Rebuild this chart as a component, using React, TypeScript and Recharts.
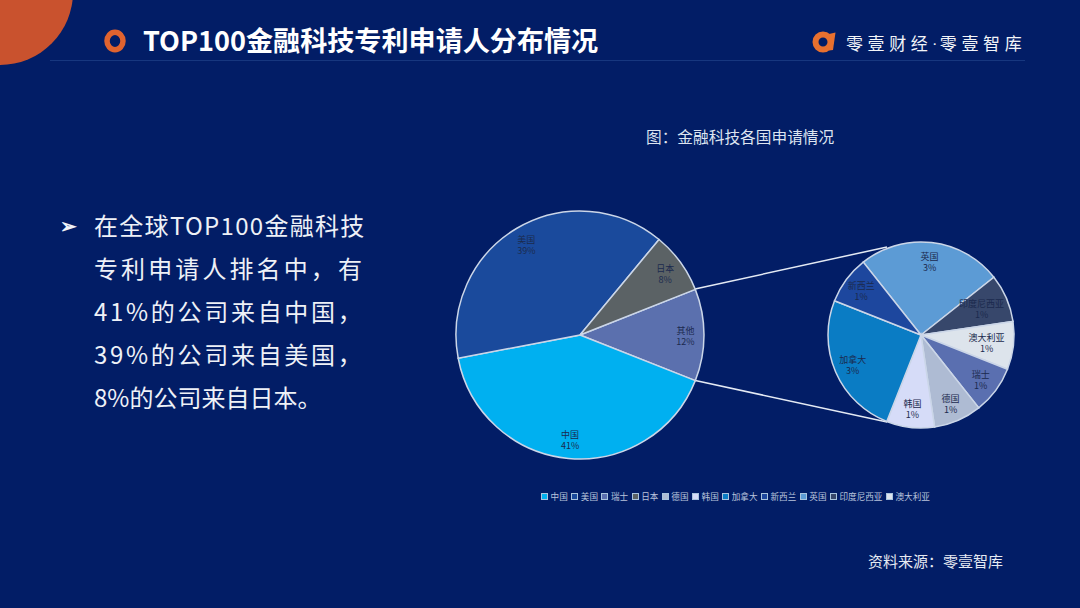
import { PieChart, Pie, Cell } from "recharts";

const mainNames = ["其他", "中国", "美国", "日本"];
const mainValues = [12, 41, 39, 8];
const mainColors = ["#5B70AE", "#00B0F0", "#1A4A9C", "#5B6265"];

const detailNames = ["英国", "印度尼西亚", "澳大利亚", "瑞士", "德国", "韩国", "加拿大", "新西兰"];
const detailValues = [3, 1, 1, 1, 1, 1, 3, 1];
const detailColors = ["#5C9BD5", "#37476B", "#DDE4EC", "#5A6FB0", "#AEBBD3", "#D6DCF8", "#0A7CC4", "#1D479E"];

const legendNames = ["中国", "美国", "瑞士", "日本", "德国", "韩国", "加拿大", "新西兰", "英国", "印度尼西亚", "澳大利亚"];
const legendColors = ["#00B0F0", "#1A4A9C", "#5A6FB0", "#5B6265", "#AEBBD3", "#D6DCF8", "#0A7CC4", "#1D479E", "#5C9BD5", "#37476B", "#DDE4EC"];

const bodyLines = ["在全球TOP100金融科技", "专利申请人排名中，有", "41%的公司来自中国，", "39%的公司来自美国，", "8%的公司来自日本。"];
// the slide's text box is justified, so every line but the last is spread out
const bodySpacing = [1.3, 3.1, 2.7, 2.7, 0];

const FONT = '"Noto Sans CJK SC", "Noto Sans", sans-serif';
const RAD = Math.PI / 180;

const mainData = mainNames.map((name, i) => ({ name, value: mainValues[i] }));
const detailData = detailNames.map((name, i) => ({ name, value: detailValues[i] }));

// two-line slice label, name above percent; long names sit further in
const sliceLabel = (ratio: number) => (p: any) => {
  const r = p.outerRadius * (p.name.length >= 4 ? ratio - 0.09 : ratio);
  const x = p.cx + r * Math.cos(p.midAngle * RAD);
  const y = p.cy - r * Math.sin(p.midAngle * RAD);
  return (
    <text x={x} textAnchor="middle" fontSize={9} fontFamily={FONT} fill="#1B2A4E">
      <tspan x={x} y={y - 1.5}>{p.name}</tspan>
      <tspan x={x} y={y + 9.5}>{p.value}%</tspan>
    </text>
  );
};

const abs = (left: number, top: number): React.CSSProperties => ({
  position: "absolute",
  left,
  top,
  whiteSpace: "nowrap",
  fontFamily: FONT,
});

export default function App() {
  return (
    <div style={{ position: "absolute", left: 0, top: 0, width: 1080, height: 608, overflow: "hidden", background: "#021D66" }}>
      <svg width={1080} height={608} style={{ position: "absolute", left: 0, top: 0 }}>
        <circle cx={0} cy={-8} r={73} fill="#C9522E" />
        <ellipse cx={115} cy={41} rx={8} ry={8.8} fill="none" stroke="#E0632F" strokeWidth={5.5} />
        <line x1={50} y1={60.5} x2={1025} y2={60.5} stroke="#17377F" strokeWidth={1} />
        <circle cx={823} cy={42} r={7.5} fill="none" stroke="#E8702F" strokeWidth={6} />
        <path d="M829 34 L835.5 32.5 L833 50 L829 50.5 Z" fill="#E8702F" />
        <line x1={695} y1={289} x2={887} y2={247} stroke="#E4EAF4" strokeWidth={1.5} />
        <line x1={693} y1={380} x2={887} y2={422} stroke="#E4EAF4" strokeWidth={1.5} />
      </svg>

      <div style={{ ...abs(143, 21), fontSize: 27.1, fontWeight: 700, color: "#fff", lineHeight: "38px" }}>
        TOP100金融科技专利申请人分布情况
      </div>
      <div style={{ ...abs(846, 31), fontSize: 17, letterSpacing: 4.6, color: "#F2F4F8", lineHeight: "24px" }}>
        零壹财经<span style={{ fontFamily: "Roboto", letterSpacing: 3 }}>·</span>零壹智库
      </div>
      <div style={{ ...abs(646, 126), fontSize: 15.7, color: "#DDE4F0", lineHeight: "22px" }}>
        图：金融科技各国申请情况
      </div>

      <div style={{ ...abs(60, 211), fontSize: 20, fontWeight: 700, color: "#F0F3F8", lineHeight: "28px" }}>➢</div>
      {bodyLines.map((t, i) => (
        <div key={i} style={{ ...abs(94, 204 + i * 43), fontSize: 24, letterSpacing: bodySpacing[i], color: "#EEF1F7", lineHeight: "42px" }}>
          {t}
        </div>
      ))}

      <div style={{ position: "absolute", left: 0, top: 0 }}>
        <PieChart width={1080} height={608} margin={{ top: 0, right: 0, bottom: 0, left: 0 }}>
          <Pie
            data={mainData}
            dataKey="value"
            nameKey="name"
            cx={580}
            cy={335}
            outerRadius={124}
            startAngle={21.6}
            endAngle={-338.4}
            stroke="#CBD6E8"
            strokeWidth={1.5}
            label={sliceLabel(0.85)}
            labelLine={false}
            isAnimationActive={false}
          >
            {mainData.map((d, i) => (
              <Cell key={d.name} fill={mainColors[i]} />
            ))}
          </Pie>
          <Pie
            data={detailData}
            dataKey="value"
            nameKey="name"
            cx={921}
            cy={335}
            outerRadius={93}
            startAngle={128.4}
            endAngle={-231.6}
            stroke="#CBD6E8"
            strokeWidth={1.5}
            label={sliceLabel(0.8)}
            labelLine={false}
            isAnimationActive={false}
          >
            {detailData.map((d, i) => (
              <Cell key={d.name} fill={detailColors[i]} />
            ))}
          </Pie>
        </PieChart>
      </div>

      <div style={{ ...abs(541, 490), display: "flex", gap: 3.4, fontSize: 8.6, lineHeight: "12px", color: "#B9C4DC" }}>
        {legendNames.map((name, i) => (
          <div key={name} style={{ display: "flex", alignItems: "center", gap: 2.6 }}>
            <span style={{ width: 5, height: 5, background: legendColors[i], border: "1px solid #A9C4DE", display: "block" }} />
            <span>{name}</span>
          </div>
        ))}
      </div>

      <div style={{ ...abs(868, 550), fontSize: 15, color: "#E6EAF2", lineHeight: "22px" }}>
        资料来源：零壹智库
      </div>
    </div>
  );
}
